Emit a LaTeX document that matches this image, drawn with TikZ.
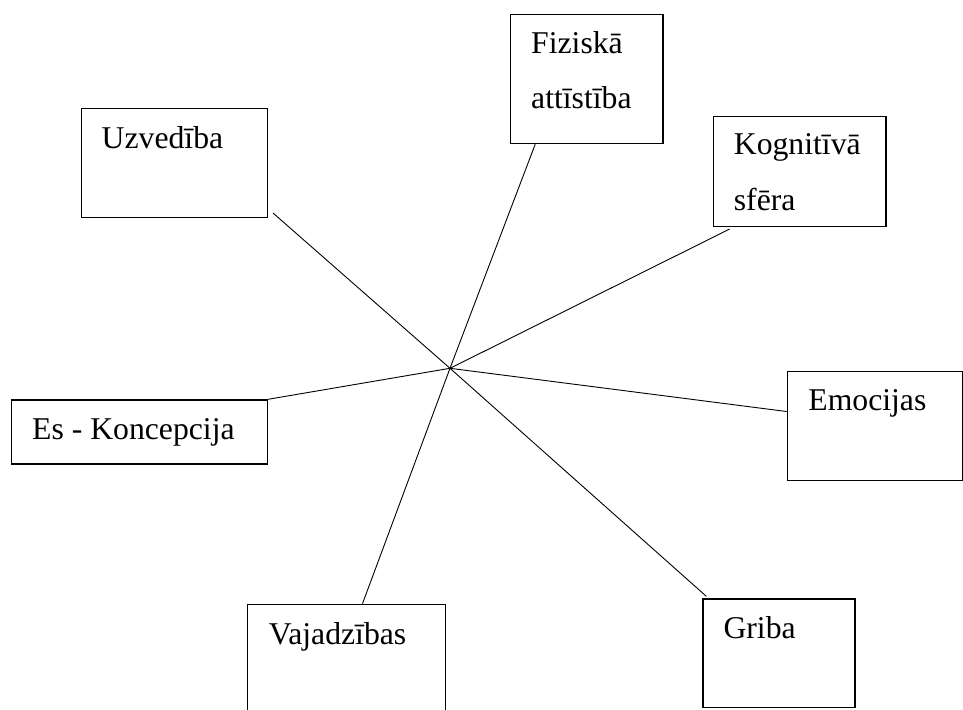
\documentclass[tikz,border=0pt]{standalone}
\usepackage{fontspec}
\setmainfont{Liberation Serif}
\usetikzlibrary{calc}

\begin{document}
\begin{tikzpicture}[x=1pt, y=-1pt,
        box/.style={draw, line width=1.3pt, inner sep=0pt, anchor=north west},
        lbl/.style={inner sep=0pt, anchor=base west, font=\fontsize{31.7}{54}\selectfont},
        link/.style={line width=0.9pt}]
            \useasboundingbox (0,0) rectangle (963,709);
            \coordinate (hub) at (450,368.3);
            \node[box, minimum width=186.2, minimum height=108.7] (uzv) at (80.5,108) {};
            \node[box, minimum width=152.3, minimum height=129] (fiz) at (510,14) {};
            \node[box, minimum width=172.6, minimum height=109.7] (kog) at (712.7,116) {};
            \node[box, minimum width=255.7, minimum height=64] (es) at (11,399.3) {};
            \node[box, minimum width=175, minimum height=109.3] (emo) at (786.7,370.7) {};
            \node[box, minimum width=198.3, minimum height=120] (vaj) at (246.7,603.7) {};
            \node[box, minimum width=152, minimum height=108.4] (gri) at (702.3,598.3) {};
            \node[lbl] (uzvt) at ([shift={(21,40)}]uzv.north west) {Uzvedība};
            \node[lbl] (fizt) at ([shift={(21,40)}]fiz.north west) {Fiziskā};
            \node[lbl] (fizt2) at ([shift={(0,54)}]fizt.base west) {attīstība};
            \node[lbl] (kogt) at ([shift={(21,38.5)}]kog.north west) {Kognitīvā};
            \node[lbl] (kogt2) at ([shift={(0,55.5)}]kogt.base west) {sfēra};
            \node[lbl] (est) at ([shift={(21,40)}]es.north west) {Es - Koncepcija};
            \node[lbl] (emot) at ([shift={(21.5,40)}]emo.north west) {Emocijas};
            \node[lbl] (vajt) at ([shift={(22,40.3)}]vaj.north west) {Vajadzības};
            \node[lbl] (grit) at ([shift={(21,40)}]gri.north west) {Griba};
            \draw[link] (hub) -- ([shift={(5,-5)}]uzv.south east);
            \draw[link] (hub) -- ($(fiz.south west)!0.164!(fiz.south east)$);
            \draw[link] (hub) -- ([shift={(17,2)}]kog.south west);
            \draw[link] (hub) -- (es.north east);
            \draw[link] (hub) -- ($(emo.north west)!0.369!(emo.south west)$);
            \draw[link] (hub) -- ($(vaj.north west)!0.58!(vaj.north east)$);
            \draw[link] (hub) -- ([shift={(4,-2)}]gri.north west);
        \end{tikzpicture}
\end{document}
